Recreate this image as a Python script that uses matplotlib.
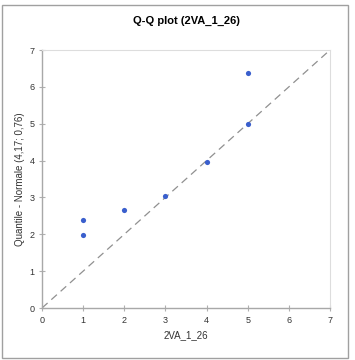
import matplotlib.pyplot as plt
from matplotlib.patches import Rectangle

plt.rcParams['font.family'] = ['Liberation Sans', 'DejaVu Sans']

# data
obs = [1, 1, 2, 3, 4, 5, 5]
theo = [2.4, 1.98, 2.65, 3.03, 3.95, 5.0, 6.38]
ticks = [0, 1, 2, 3, 4, 5, 6, 7]

fig = plt.figure(figsize=(3.55, 3.6), dpi=100)
fig.patches.append(Rectangle((2/355, 2/360), 346/355, 353/360, transform=fig.transFigure,
                             fill=False, edgecolor='#a0a0a0', lw=1.0))
ax = fig.add_axes([42/355, 52/360, 288/355, 258/360])

ax.plot([0, 7], [0, 7], ls=(0, (6, 4)), color='#909090', lw=0.9, zorder=1)
ax.scatter(obs, theo, s=14, color='#3a5fcd', zorder=3, linewidths=0)

ax.set_xlim(0, 7)
ax.set_ylim(0, 7)
ax.set_xticks(ticks)
ax.set_yticks(ticks)
ax.tick_params(direction='inout', length=5, width=0.8, color='#b0b0b0',
               labelsize=6.5, labelcolor='#333333', pad=3)
for s in ['left', 'bottom']:
    ax.spines[s].set_color('#a8a8a8')
    ax.spines[s].set_linewidth(1.0)
for s in ['top', 'right']:
    ax.spines[s].set_color('#dddddd')
    ax.spines[s].set_linewidth(0.8)

ax.set_xlabel('2VA_1_26', fontsize=7, color='#333333', labelpad=4)
ax.set_ylabel('Quantile - Normale (4,17; 0,76)', fontsize=7, color='#333333', labelpad=3)
ax.set_title('Q-Q plot (2VA_1_26)', fontsize=8, fontweight='bold', pad=19)

fig.savefig('out.png', dpi=100)
